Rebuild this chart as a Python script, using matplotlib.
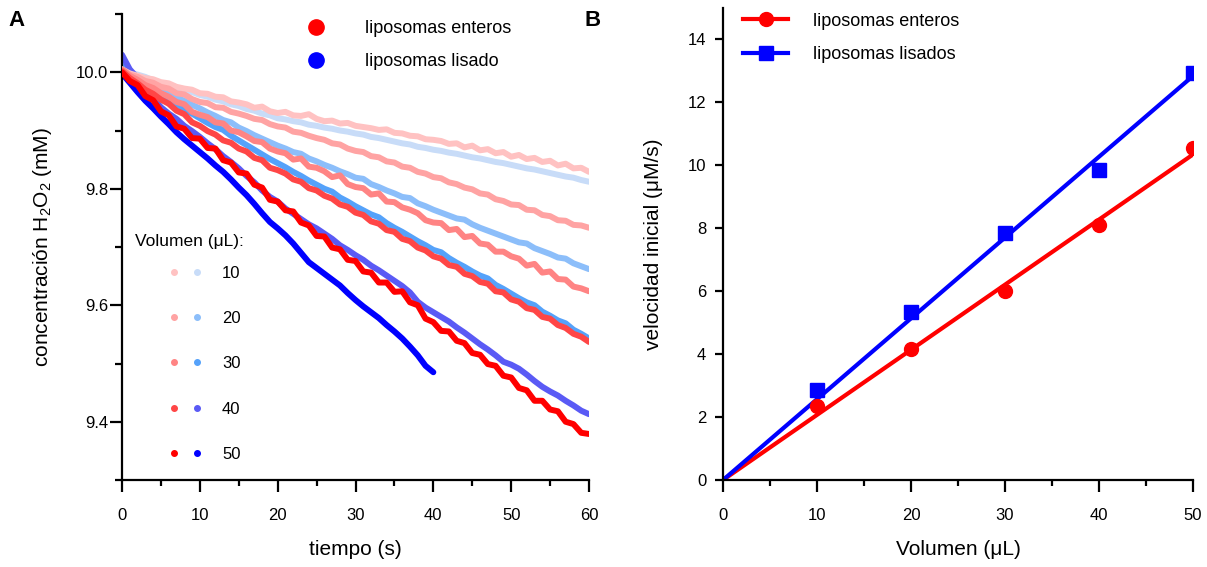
import numpy as np
import matplotlib
matplotlib.use("Agg")
import matplotlib.pyplot as plt
from matplotlib.lines import Line2D
from matplotlib.legend_handler import HandlerTuple
from matplotlib.ticker import MultipleLocator

plt.rcParams['font.family'] = ['Liberation Sans', 'DejaVu Sans']
plt.rcParams['mathtext.fontset'] = 'custom'
plt.rcParams['mathtext.rm'] = 'Liberation Sans'
plt.rcParams['mathtext.it'] = 'Liberation Sans:italic'
plt.rcParams['mathtext.bf'] = 'Liberation Sans:bold'

# ---------------- data: panel A (H2O2 concentration, mM, vs time, s) ----------------
time_s = list(range(61))
time_s_lis50 = list(range(41))

volumes = [10, 20, 30, 40, 50]

enteros_10 = [10.005, 9.998, 9.994, 9.990, 9.988, 9.983, 9.981, 9.975, 9.972, 9.970,
              9.964, 9.963, 9.958, 9.957, 9.950, 9.948, 9.945, 9.939, 9.941, 9.933,
              9.930, 9.932, 9.926, 9.925, 9.928, 9.920, 9.916, 9.917, 9.912, 9.913,
              9.908, 9.906, 9.904, 9.901, 9.902, 9.896, 9.895, 9.891, 9.890, 9.885,
              9.884, 9.882, 9.877, 9.878, 9.871, 9.874, 9.866, 9.868, 9.861, 9.863,
              9.855, 9.858, 9.851, 9.853, 9.846, 9.848, 9.840, 9.843, 9.835, 9.836,
              9.829]
enteros_20 = [10.005, 9.996, 9.992, 9.985, 9.982, 9.975, 9.972, 9.964, 9.962, 9.954,
              9.949, 9.947, 9.940, 9.939, 9.932, 9.929, 9.925, 9.920, 9.918, 9.911,
              9.907, 9.905, 9.898, 9.896, 9.891, 9.887, 9.884, 9.878, 9.876, 9.869,
              9.865, 9.863, 9.856, 9.854, 9.847, 9.845, 9.838, 9.836, 9.829, 9.826,
              9.820, 9.818, 9.811, 9.808, 9.802, 9.799, 9.792, 9.790, 9.782, 9.779,
              9.773, 9.772, 9.764, 9.763, 9.755, 9.753, 9.746, 9.745, 9.738, 9.737,
              9.733]
enteros_30 = [10.005, 9.994, 9.987, 9.978, 9.973, 9.964, 9.958, 9.949, 9.945, 9.932,
              9.927, 9.923, 9.914, 9.912, 9.900, 9.897, 9.890, 9.882, 9.880, 9.869,
              9.864, 9.861, 9.850, 9.852, 9.838, 9.836, 9.830, 9.820, 9.823, 9.808,
              9.803, 9.801, 9.790, 9.792, 9.778, 9.777, 9.768, 9.764, 9.758, 9.746,
              9.742, 9.741, 9.729, 9.731, 9.717, 9.719, 9.706, 9.704, 9.692, 9.692,
              9.684, 9.680, 9.668, 9.671, 9.656, 9.658, 9.645, 9.644, 9.632, 9.629,
              9.624]
enteros_40 = [10.002, 9.990, 9.981, 9.970, 9.963, 9.953, 9.946, 9.934, 9.928, 9.914,
              9.908, 9.899, 9.893, 9.883, 9.879, 9.869, 9.864, 9.853, 9.849, 9.836,
              9.832, 9.826, 9.816, 9.812, 9.801, 9.797, 9.788, 9.783, 9.773, 9.769,
              9.759, 9.755, 9.744, 9.740, 9.729, 9.726, 9.714, 9.710, 9.699, 9.694,
              9.684, 9.680, 9.669, 9.666, 9.654, 9.650, 9.640, 9.637, 9.624, 9.622,
              9.610, 9.606, 9.595, 9.592, 9.580, 9.577, 9.566, 9.561, 9.551, 9.546,
              9.537]
enteros_50 = [10.000, 9.985, 9.978, 9.959, 9.952, 9.933, 9.926, 9.907, 9.903, 9.887,
              9.886, 9.870, 9.869, 9.849, 9.845, 9.828, 9.826, 9.807, 9.802, 9.781,
              9.778, 9.763, 9.761, 9.742, 9.737, 9.719, 9.718, 9.699, 9.696, 9.678,
              9.676, 9.658, 9.656, 9.639, 9.639, 9.623, 9.624, 9.605, 9.600, 9.577,
              9.571, 9.556, 9.555, 9.539, 9.535, 9.518, 9.515, 9.499, 9.496, 9.479,
              9.476, 9.458, 9.454, 9.436, 9.436, 9.421, 9.418, 9.400, 9.396, 9.381,
              9.379]

lisado_10 = [10.010, 10.000, 9.996, 9.992, 9.986, 9.981, 9.978, 9.973, 9.969, 9.966,
             9.961, 9.958, 9.953, 9.950, 9.945, 9.942, 9.937, 9.934, 9.929, 9.926,
             9.921, 9.919, 9.916, 9.914, 9.910, 9.908, 9.905, 9.903, 9.900, 9.898,
             9.895, 9.893, 9.889, 9.887, 9.884, 9.881, 9.878, 9.876, 9.872, 9.870,
             9.867, 9.865, 9.862, 9.860, 9.857, 9.854, 9.852, 9.849, 9.846, 9.844,
             9.841, 9.838, 9.835, 9.833, 9.830, 9.827, 9.824, 9.821, 9.819, 9.815,
             9.812]
lisado_20 = [10.015, 9.998, 9.991, 9.984, 9.977, 9.970, 9.964, 9.957, 9.951, 9.944,
             9.938, 9.931, 9.925, 9.918, 9.914, 9.905, 9.899, 9.892, 9.886, 9.880,
             9.874, 9.869, 9.863, 9.860, 9.852, 9.847, 9.841, 9.836, 9.830, 9.825,
             9.819, 9.817, 9.808, 9.803, 9.797, 9.792, 9.786, 9.784, 9.775, 9.770,
             9.764, 9.759, 9.754, 9.749, 9.747, 9.739, 9.733, 9.728, 9.723, 9.718,
             9.713, 9.708, 9.706, 9.698, 9.693, 9.688, 9.682, 9.680, 9.672, 9.667,
             9.662]
lisado_30 = [10.010, 9.994, 9.985, 9.976, 9.968, 9.960, 9.952, 9.944, 9.936, 9.929,
             9.921, 9.913, 9.906, 9.901, 9.891, 9.883, 9.875, 9.867, 9.859, 9.851,
             9.844, 9.837, 9.829, 9.822, 9.814, 9.807, 9.800, 9.795, 9.785, 9.778,
             9.770, 9.763, 9.756, 9.751, 9.741, 9.733, 9.726, 9.718, 9.710, 9.703,
             9.695, 9.691, 9.681, 9.673, 9.666, 9.658, 9.651, 9.646, 9.635, 9.628,
             9.620, 9.612, 9.605, 9.600, 9.589, 9.582, 9.574, 9.569, 9.558, 9.551,
             9.543]
lisado_40 = [10.030, 10.005, 9.990, 9.972, 9.955, 9.940, 9.929, 9.920, 9.908, 9.899,
             9.889, 9.878, 9.868, 9.856, 9.846, 9.835, 9.822, 9.811, 9.797, 9.786,
             9.778, 9.766, 9.757, 9.748, 9.739, 9.732, 9.723, 9.714, 9.703, 9.695,
             9.686, 9.678, 9.668, 9.660, 9.651, 9.642, 9.633, 9.622, 9.606, 9.596,
             9.588, 9.580, 9.572, 9.562, 9.553, 9.543, 9.533, 9.524, 9.514, 9.503,
             9.498, 9.491, 9.481, 9.470, 9.460, 9.452, 9.445, 9.436, 9.428, 9.419,
             9.413]
lisado_50 = [9.998, 9.982, 9.966, 9.951, 9.938, 9.924, 9.911, 9.897, 9.885, 9.874,
             9.863, 9.852, 9.840, 9.829, 9.816, 9.802, 9.789, 9.774, 9.758, 9.743,
             9.732, 9.720, 9.706, 9.690, 9.674, 9.664, 9.654, 9.644, 9.634, 9.621,
             9.609, 9.598, 9.588, 9.578, 9.566, 9.555, 9.543, 9.529, 9.514, 9.496,
             9.485]

enteros_colors = ['#FFC2C2', '#FFA3A3', '#FF8484', '#FF4646', '#FF0000']
lisado_colors = ['#C8DCF8', '#8CBEFA', '#55A2FA', '#5A5AF5', '#0000FF']

# ---------------- data: panel B (initial rate, uM/s, vs volume, uL) ----------------
vol_ul = [10, 20, 30, 40, 50]
rate_enteros = [2.35, 4.15, 6.00, 8.10, 10.55]
rate_lisados = [2.85, 5.35, 7.85, 9.85, 12.95]

# ---------------- figure ----------------
fig = plt.figure(figsize=(12.07, 5.67), dpi=100)
axA = fig.add_axes([122/1207, 87/567, 467/1207, 466/567])
axB = fig.add_axes([723/1207, 87/567, 470/1207, 472/567])

TICK_FS = 12
LABEL_FS = 15
LEG_FS = 13

for ax in (axA, axB):
    for side in ('top', 'right'):
        ax.spines[side].set_visible(False)
    for side in ('left', 'bottom'):
        ax.spines[side].set_linewidth(1.6)
    ax.tick_params(which='major', length=8.5, width=1.6, labelsize=TICK_FS)
    ax.tick_params(which='minor', length=4, width=1.6)
    ax.tick_params(axis='x', which='major', pad=12)

# Panel A traces
ent_series = [enteros_10, enteros_20, enteros_30, enteros_40, enteros_50]
lis_series = [lisado_10, lisado_20, lisado_30, lisado_40, lisado_50]
for i, ys in enumerate(lis_series):
    xs = time_s_lis50 if len(ys) == len(time_s_lis50) else time_s
    axA.plot(xs, ys, color=lisado_colors[i], lw=4.3, solid_joinstyle='round',
             solid_capstyle='round', zorder=2)
for i, ys in enumerate(ent_series):
    axA.plot(time_s, ys, color=enteros_colors[i], lw=4.3, solid_joinstyle='round',
             solid_capstyle='round', zorder=3)

axA.set_xlim(0, 60)
axA.set_ylim(9.3, 10.1)
axA.xaxis.set_major_locator(MultipleLocator(10))
axA.xaxis.set_minor_locator(MultipleLocator(5))
axA.set_yticks([9.4, 9.6, 9.8, 10.0])
axA.set_yticklabels(['9.4', '9.6', '9.8', '10.0'])
axA.set_yticks([9.3, 9.5, 9.7, 9.9, 10.1], minor=True)
axA.tick_params(axis='y', which='major', length=8.5, pad=1.5)
axA.tick_params(axis='y', which='minor', length=5)
axA.set_xlabel('tiempo (s)', fontsize=LABEL_FS, labelpad=12)
axA.set_ylabel(r'concentración H$_2$O$_2$ (mM)', fontsize=LABEL_FS, labelpad=16)

# Panel A legends
h_ent = Line2D([], [], ls='none', marker='o', ms=11, color='#FF0000')
h_lis = Line2D([], [], ls='none', marker='o', ms=11, color='#0000FF')
legA1 = axA.legend([h_ent, h_lis], ['liposomas enteros', 'liposomas lisado'],
                   loc='upper left', bbox_to_anchor=(0.384, 0.987), frameon=False,
                   fontsize=LEG_FS, handlelength=1.6, handletextpad=1.9,
                   labelspacing=0.9, borderpad=0, borderaxespad=0)
axA.add_artist(legA1)

vol_handles = []
for i in range(len(volumes)):
    r = Line2D([], [], ls='none', marker='o', ms=4, color=enteros_colors[i])
    b = Line2D([], [], ls='none', marker='o', ms=4, color=lisado_colors[i])
    vol_handles.append((r, b))
axA.legend(vol_handles, [str(v) for v in volumes],
           handler_map={tuple: HandlerTuple(ndivide=None, pad=0.78)},
           loc='upper left', bbox_to_anchor=(0.1006, 0.46), frameon=False,
           fontsize=12, handlelength=1.98, handletextpad=1.2,
           labelspacing=1.82, borderpad=0, borderaxespad=0)
axA.text(0.028, 0.511, 'Volumen (μL):', transform=axA.transAxes,
         fontsize=12.5, va='center', ha='left')

# Panel B
def fit_origin(x, y):
    x = np.asarray(x, float)
    y = np.asarray(y, float)
    return np.sum(x * y) / np.sum(x * x)

xfit = np.array([0.0, 50.0])
k_ent = fit_origin(vol_ul, rate_enteros)
k_lis = fit_origin(vol_ul, rate_lisados)
axB.plot(xfit, k_ent * xfit, color='#FF0000', lw=3, zorder=2)
axB.plot(xfit, k_lis * xfit, color='#0000FF', lw=3, zorder=2)
axB.plot(vol_ul, rate_enteros, ls='none', marker='o', ms=10, color='#FF0000', zorder=3)
axB.plot(vol_ul, rate_lisados, ls='none', marker='s', ms=9.5, color='#0000FF', zorder=3)

axB.set_xlim(0, 50)
axB.set_ylim(0, 15)
axB.xaxis.set_major_locator(MultipleLocator(10))
axB.xaxis.set_minor_locator(MultipleLocator(5))
axB.set_yticks([0, 2, 4, 6, 8, 10, 12, 14])
axB.tick_params(axis='y', which='major', length=6, pad=6)
axB.set_xlabel('Volumen (μL)', fontsize=LABEL_FS, labelpad=12)
axB.set_ylabel('velocidad inicial (μM/s)', fontsize=LABEL_FS, labelpad=18)

hB1 = Line2D([], [], color='#FF0000', lw=3, marker='o', ms=10)
hB2 = Line2D([], [], color='#0000FF', lw=3, marker='s', ms=9.5)
axB.legend([hB1, hB2], ['liposomas enteros', 'liposomas lisados'],
           loc='upper left', bbox_to_anchor=(0.0426, 0.99), frameon=False,
           fontsize=LEG_FS, handlelength=2.5, handletextpad=1.38,
           labelspacing=0.9, borderpad=0, borderaxespad=0)

fig.text(8/1207, 1 - 20/567, 'A', fontsize=16, fontweight='bold', va='center', ha='left')
fig.text(585/1207, 1 - 20/567, 'B', fontsize=16, fontweight='bold', va='center', ha='left')

fig.savefig('out.png', dpi=100)
